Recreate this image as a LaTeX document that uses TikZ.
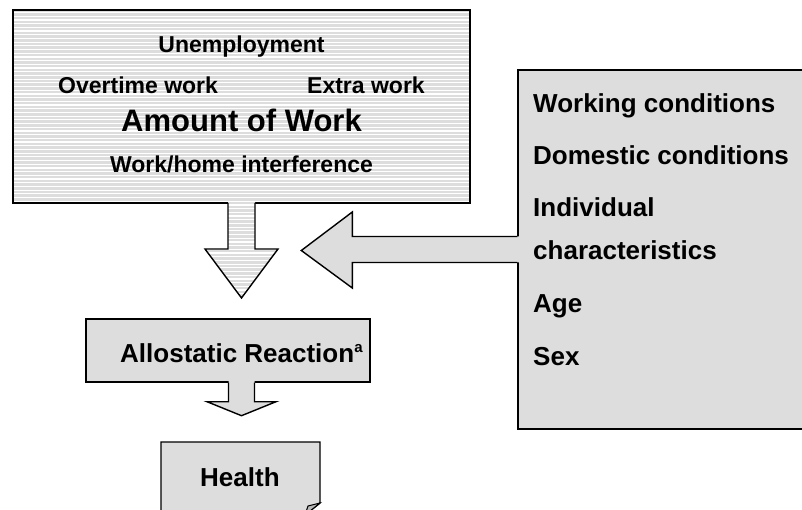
\documentclass[tikz,border=0pt]{standalone}
\usepackage{fontspec}
\setmainfont{Liberation Sans}
\usetikzlibrary{calc}
\definecolor{fillgray}{HTML}{DDDDDD}
\definecolor{foldgray}{HTML}{B8B8B8}
\newcommand{\stripedregion}[1]{%
  \begin{scope}
    \clip #1;
    \fill[fillgray] (0,0) rectangle (802,510);
    \foreach \k in {0,...,82}{\draw[white,line width=1.2pt] (0,{\k*3.7+1.5}) -- (802,{\k*3.7+1.5});}
  \end{scope}}
\begin{document}
\begin{tikzpicture}[x=1pt,y=-1pt,
  outline/.style={draw=black,line width=1.4pt,line join=miter},
  graybox/.style={outline,fill=fillgray},
  holder/.style={inner sep=0pt,outer sep=0pt},
  lblA/.style={font=\fontsize{23}{23}\selectfont\bfseries,inner sep=0pt,anchor=base},
  lblB/.style={font=\fontsize{26}{26}\selectfont\bfseries,inner sep=0pt,anchor=base west},
  lblBig/.style={font=\fontsize{31}{31}\selectfont\bfseries,inner sep=0pt,anchor=base}]
\useasboundingbox (0,0) rectangle (802,510);
\clip (0,0) rectangle (802,510);

% ---------- top striped box ----------
\node[holder,minimum width=457pt,minimum height=193pt] (work) at (241.5,106.5) {};
\stripedregion{(work.north west) rectangle (work.south east)}
\draw[outline] (work.north west) rectangle (work.south east);

% striped down arrow
\stripedregion{($(work.south)+(-13.5,-2)$) -- ($(work.south)+(-13.5,46)$) -- ($(work.south)+(-36.5,46)$) -- ($(work.south)+(0,95)$) -- ($(work.south)+(36.5,46)$) -- ($(work.south)+(13.5,46)$) -- ($(work.south)+(13.5,-2)$) -- cycle}
\draw[outline] ($(work.south)+(-13.5,0)$) -- ($(work.south)+(-13.5,46)$) -- ($(work.south)+(-36.5,46)$) -- ($(work.south)+(0,95)$) -- ($(work.south)+(36.5,46)$) -- ($(work.south)+(13.5,46)$) -- ($(work.south)+(13.5,0)$);

\node[lblA] (unemp) at (241.5,53) {Unemployment};
\node[lblA,anchor=base west] (overtime) at (58,94) {Overtime work};
\node[lblA,anchor=base west] (extra) at (307,94) {Extra work};
\node[lblBig] (amount) at (241.5,132) {Amount of Work};
\node[lblA] (workhome) at (241.5,173) {Work/home interference};

% ---------- right box with conditions ----------
\node[graybox,minimum width=297pt,minimum height=359pt] (cond) at (666.5,249.5) {};
\fill[fillgray] ($(cond.west)+(2,-13)$) -- ($(cond.west)+(-165,-13)$) -- ($(cond.west)+(-165,-37.5)$) -- ($(cond.west)+(-216,1)$) -- ($(cond.west)+(-165,38.5)$) -- ($(cond.west)+(-165,13)$) -- ($(cond.west)+(2,13)$) -- cycle;
\draw[outline] ($(cond.west)+(0,-13)$) -- ($(cond.west)+(-165,-13)$) -- ($(cond.west)+(-165,-37.5)$) -- ($(cond.west)+(-216,1)$) -- ($(cond.west)+(-165,38.5)$) -- ($(cond.west)+(-165,13)$) -- ($(cond.west)+(0,13)$);

\node[lblB] (working) at (533,113) {Working conditions};
\node[lblB] (domestic) at (533,165) {Domestic conditions};
\node[lblB] (indiv) at (533,217) {Individual};
\node[lblB] (charac) at (533,260) {characteristics};
\node[lblB] (age) at (533,312) {Age};
\node[lblB] (sex) at (533,365) {Sex};

% ---------- allostatic reaction ----------
\node[graybox,minimum width=284pt,minimum height=63pt] (allo) at (228,350.5) {};
\coordinate (ac) at (work.south |- allo.south);
\fill[fillgray] ($(ac)+(-13,-2)$) -- ($(ac)+(-13,19)$) -- ($(ac)+(-34.5,19)$) -- ($(ac)+(0,33)$) -- ($(ac)+(34.5,19)$) -- ($(ac)+(13,19)$) -- ($(ac)+(13,-2)$) -- cycle;
\draw[outline] ($(ac)+(-13,0)$) -- ($(ac)+(-13,19)$) -- ($(ac)+(-34.5,19)$) -- ($(ac)+(0,33)$) -- ($(ac)+(34.5,19)$) -- ($(ac)+(13,19)$) -- ($(ac)+(13,0)$);
\node[lblB] (allotext) at (120,362) {Allostatic Reaction{\fontsize{15}{15}\selectfont\raisebox{10pt}{a}}};

% ---------- health (folded corner) ----------
\coordinate (hnw) at (161,442);
\coordinate (hne) at (320,442);
\draw[graybox] (hnw) -- (hne) -- (320,503) -- (305,515) -- (161,515) -- cycle;
\draw[outline,fill=foldgray,line width=1pt] (320,503) -- (308,506) -- (305,515) -- cycle;
\node[lblB] (health) at (200,486) {Health};
\end{tikzpicture}
\end{document}
